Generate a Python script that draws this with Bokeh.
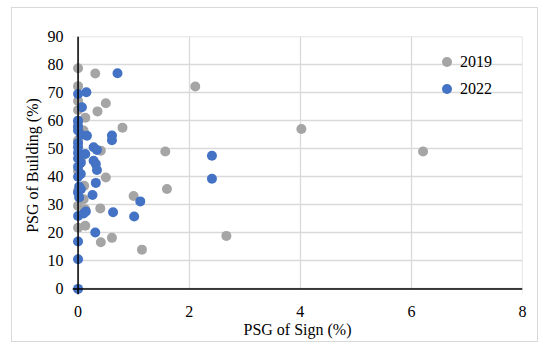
from bokeh.plotting import figure
from bokeh.models import Range1d, FixedTicker, Legend, LegendItem, Span
from bokeh.embed import file_html
from bokeh.resources import INLINE

# ---- data ----
x2019 = [0, 0.31, 2.11, 0, 0, 0.50, 0, 0.35, 0.13, 0,
         0, 0.80, 4.02, 0.10, 0, 0.41, 1.57, 6.21, 0.05, 0,
         0.50, 0.11, 1.60, 0, 1.00, 0.10, 0, 0.40, 0.13, 0,
         0.13, 0.61, 2.67, 0.41, 1.15]
y2019 = [78.7, 76.8, 72.2, 72.3, 67.0, 66.2, 63.8, 63.3, 61.0, 59.5,
         57.6, 57.5, 57.0, 56.5, 53.0, 49.3, 49.0, 49.0, 46.0, 42.0,
         39.7, 36.8, 35.6, 35.0, 33.1, 32.0, 29.6, 28.7, 28.4, 21.8,
         22.5, 18.2, 18.9, 16.6, 14.0]

x2022 = [0.71, 0, 0.15, 0.07, 0, 0, 0, 0.05, 0.16, 0.61,
         0.61, 0, 0, 0.28, 0.34, 0, 0.13, 0, 0.05, 0.28,
         0.32, 0, 0.34, 0.05, 0, 0.32, 0.02, 0.05, 0, 0.26,
         0.02, 1.12, 0.14, 0.10, 0, 0.63, 1.01, 0.31, 0, 0,
         0, 2.41, 2.41]
y2022 = [76.9, 69.5, 70.1, 64.8, 60.0, 58.0, 56.5, 55.0, 54.6, 54.7,
         53.0, 52.0, 50.5, 50.5, 49.5, 48.5, 48.1, 46.5, 45.0, 45.7,
         44.5, 43.5, 42.4, 41.0, 40.0, 37.8, 36.5, 35.5, 34.4, 33.5,
         32.6, 31.2, 27.6, 26.9, 26.0, 27.3, 25.8, 20.1, 16.9, 10.6,
         0.0, 47.5, 39.3]

x_ticks = [0, 2, 4, 6, 8]
y_ticks = [0, 10, 20, 30, 40, 50, 60, 70, 80, 90]
series_names = ["2019", "2022"]
colors = ["#A5A5A5", "#4472C4"]

FONT = "Liberation Serif"

xr = Range1d(-0.1, x_ticks[-1] + 0.0001)
yr = Range1d(-2, y_ticks[-1] + 0.0001)

p = figure(
    output_backend="svg", toolbar_location=None,
    frame_width=450, frame_height=258,
    min_border_left=60, min_border_right=15, min_border_top=28, min_border_bottom=47,
    x_range=xr, y_range=yr,
    background_fill_color="white", border_fill_color="white",
    styles={"margin-left": "11px", "margin-top": "7px",
            "border": "1px solid #D9D9D9"},
)
p.outline_line_color = None

for ax in (p.xaxis[0], p.yaxis[0]):
    ax.axis_line_color = None
    ax.major_tick_line_color = None
    ax.minor_tick_line_color = None
    ax.major_label_text_font = FONT
    ax.major_label_text_font_size = "16px"
    ax.major_label_text_color = "black"
    ax.axis_label_text_font = FONT
    ax.axis_label_text_font_size = "16px"
    ax.axis_label_text_font_style = "normal"
    ax.axis_label_text_color = "black"

p.xaxis[0].ticker = FixedTicker(ticks=x_ticks)
p.yaxis[0].ticker = FixedTicker(ticks=y_ticks)
p.xaxis[0].axis_label = "PSG of Sign (%)"
p.yaxis[0].axis_label = "PSG of Building (%)"
p.xaxis[0].major_label_standoff = 5
p.yaxis[0].major_label_standoff = 3
p.xaxis[0].axis_label_standoff = 1
p.yaxis[0].axis_label_standoff = 4

p.xgrid[0].ticker = FixedTicker(ticks=x_ticks)
p.ygrid[0].ticker = FixedTicker(ticks=y_ticks)
for g in (p.xgrid[0], p.ygrid[0]):
    g.grid_line_color = "#D9D9D9"
    g.grid_line_width = 1.3

# white masks over the small padding strips left of / below the axes
p.quad(left=[xr.start, xr.start], right=[x_ticks[0], xr.end],
       bottom=[yr.start, yr.start], top=[yr.end, y_ticks[0]],
       fill_color="white", line_color=None)

r1 = p.scatter(x2019, y2019, size=10, color=colors[0], line_color=None)
r2 = p.scatter(x2022, y2022, size=10, color=colors[1], line_color=None)

# axis lines through the origin
p.add_layout(Span(location=y_ticks[0], dimension="width", line_color="black",
                  line_width=1.5))
p.add_layout(Span(location=x_ticks[0], dimension="height", line_color="black",
                  line_width=1.5))

legend = Legend(
    items=[LegendItem(label=series_names[0], renderers=[r1]),
           LegendItem(label=series_names[1], renderers=[r2])],
    location=(362, 193),
    background_fill_alpha=0, border_line_color=None,
    label_text_font=FONT, label_text_font_size="16px", label_text_color="black",
    glyph_width=25, glyph_height=25, label_height=25, spacing=2,
    padding=0, margin=0, label_standoff=1,
)
p.add_layout(legend, "center")

open("out.html", "w").write(file_html(p, INLINE))
